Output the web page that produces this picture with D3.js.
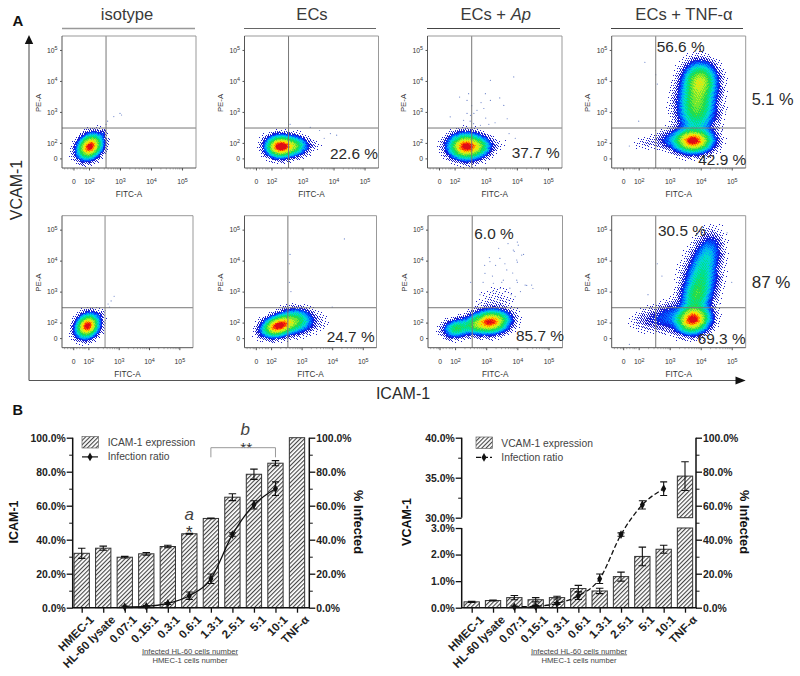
<!DOCTYPE html>
<html><head><meta charset="utf-8">
<script src="https://cdn.jsdelivr.net/npm/d3@7/dist/d3.min.js"></script>
<style>html,body{margin:0;padding:0;background:#fff}svg{display:block}text{font-family:"Liberation Sans",Arial,sans-serif}</style>
</head><body><svg id="c" width="800" height="676"></svg>
<script>
// ---------- Flow cytometry: density components [cx, cy, sx, sy, rho, weight] in log10 units
const isotypeTop=[[2.03,1.88,.2,.2,.25,1],[2.45,2.3,.07,.09,.5,.03]];
const ecsTop=[[2.25,1.88,.22,.17,0,1],[2.65,1.9,.24,.16,0,.42],[3.2,1.95,.25,.12,0,.012]];
const apTop=[[2.36,1.88,.28,.2,0,1],[2.8,1.88,.2,.16,0,.2],[3.3,1.95,.25,.15,0,.008]];
const tnfTop=[[3.74,2.07,.31,.19,0,1],[3.85,2.9,.3,.36,0,.2],[3.87,3.4,.3,.36,0,.3],[3.97,4.0,.27,.3,0,.5],[3.9,3.3,.42,.8,0,.014],[3.0,2.1,.3,.17,.1,.05],[2.2,2.0,.22,.13,.2,.012]];
const isotypeBottom=[[1.97,1.9,.19,.19,.2,1],[2.42,2.25,.07,.1,.5,.02]];
const ecsBottom=[[2.22,1.9,.26,.17,.3,1],[2.75,2.05,.28,.2,.1,.36],[3.3,2.0,.3,.18,0,.02]];
const apBottom=[[3.13,2.03,.3,.18,.1,.95],[2.05,1.82,.22,.15,.15,.3],[2.6,1.92,.22,.15,0,.22],[3.3,2.6,.35,.3,0,.012],[3.55,3.5,.4,.55,.2,.0015]];
const tnfBottom=[[3.74,2.11,.27,.22,.1,1],[3.85,2.85,.25,.3,.2,.26],[4.0,3.45,.27,.4,.2,.2],[4.2,4.2,.24,.36,.3,.12],[4.0,3.5,.45,.8,.3,.012],[2.95,2.2,.3,.25,.2,.07],[2.3,2.1,.3,.2,.1,.028]];
const blobs=[[isotypeTop,ecsTop,apTop,tnfTop],[isotypeBottom,ecsBottom,apBottom,tnfBottom]];
// sparse events [x, y] in log10 units
const sparseApTop=[[2.16,3.48],[2.4,3.37],[2.99,3.59],[3.15,3.37],[3.58,3.21],[2.94,3.11],[2.51,2.89],[3.69,2.78],[3.9,4.13],[3.15,4.02],[2.29,2.73],[1.86,2.84],[2.61,2.62],[2.83,2.57],[2.45,3.59],[2.72,3.05],[2.55,3.2],[2.62,2.95],[3.0,2.8],[2.5,2.7],[3.3,2.65],[2.4,2.95],[3.45,3.45],[2.85,3.3],[3.95,2.15],[3.75,2.3],[3.1,2.6],[2.55,4.0]];
const sparseIsoTop=[[2.55,2.6],[2.6,2.7],[2.8,2.85],[3.0,2.95],[3.05,2.9]];
const sparseEcsTop=[[3.9,2.3],[3.55,2.4],[4.1,2.25],[3.7,2.15],[2.6,2.6],[3.25,2.5]];
const sparseTnfTop=[[2.55,4.2],[2.2,4.6],[2.6,3.9],[4.8,3.0],[4.7,2.4],[2.0,2.7],[1.7,1.9]];
const sparseEcsBottom=[[2.6,3.3],[2.65,3.0],[2.62,4.2],[4.0,2.5],[4.4,4.7],[2.6,3.9]];
const sparseIsoBottom=[[2.65,2.6],[2.75,2.7],[2.85,2.85],[2.7,2.5]];
const sparseApBottom=[[2.9,3.3],[3.1,4.1],[3.3,3.85],[3.7,4.55],[4.0,4.6],[3.9,4.3],[4.2,4.2],[3.6,3.0],[3.2,3.0],[2.8,2.9],[3.85,3.6],[4.0,3.3],[2.5,3.3],[3.4,4.4],[4.3,3.2],[4.5,3.1],[3.6,3.9],[3.2,3.5],[3.5,3.3],[3.8,2.9],[4.1,3.0],[4.0,3.95],[3.45,3.1],[2.95,3.85],[3.12,3.97],[3.44,4.07],[3.66,3.7],[3.87,4.34],[4.03,4.5],[3.55,3.37],[3.23,3.27],[2.96,3.59],[3.98,4.02],[4.14,4.18],[3.76,3.11],[3.33,3.0],[3.01,2.84],[3.93,2.84],[4.25,3.21],[4.46,3.21],[2.8,2.62],[3.44,2.73],[3.71,2.73],[3.98,3.37]];
const sparseTnfBottom=[[2.6,3.9],[2.75,3.5],[4.85,4.9],[4.6,2.6],[2.3,2.9],[1.8,2.1],[1.7,1.3],[5.0,3.3]];
const sparse=[[sparseIsoTop,sparseEcsTop,sparseApTop,sparseTnfTop],[sparseIsoBottom,sparseEcsBottom,sparseApBottom,sparseTnfBottom]];
const logTicks=[1.5,2,3,4,5];
const logExps=["","2","3","4","5"];
const minorDecades=[2,3,4];
const gate=[2.55,2.48];
const colTitles=["isotype","ECs","ECs + ","ECs + TNF-α"];
const pctLabels=[["22.6 %"],["37.7 %"],["56.6 %"],["42.9 %"],["5.1 %"],["24.7 %"],["6.0 %"],["85.7 %"],["30.5 %"],["69.3 %"],["87 %"]];

// ---------- Bar charts
const categories=["HMEC-1","HL-60 lysate","0.07:1","0.15:1","0.3:1","0.6:1","1.3:1","2.5:1","5:1","10:1","TNF-α"];
const icamValues=[32,35,29.7,31.7,36,43.5,52.5,65,78.5,85,100];
const icamErrors=[3,1.2,.5,.8,.7,.2,.2,2,3,1.5,0];
const vcamValues=[.22,.27,.38,.3,.38,.72,.63,1.17,1.93,2.2,35.2];
const vcamErrors=[.02,.02,.08,.08,.05,.12,.1,.17,.35,.15,1.8];
const infectionValues=[null,null,.5,.8,2.5,7,17,43,60.5,70,null];
const infectionErrors=[null,null,.4,.4,.6,2.2,2.8,1,2.4,4,null];
const leftTicks=[0,20,40,60,80,100];
const leftMinor=[10,30,50,70,90];
const vTopTicks=[30,35,40];
const vTopMinor=[32.5,37.5];
const vBotTicks=[0,1,2,3];

const svg=d3.select("#c");
const defs=svg.append("defs");
const pat=defs.append("pattern").attr("id","hatch").attr("width",3).attr("height",3).attr("patternUnits","userSpaceOnUse").attr("patternTransform","rotate(45)");
pat.append("rect").attr("width",3).attr("height",3).attr("fill","#fff");
pat.append("line").attr("x1",0).attr("x2",0).attr("y1",0).attr("y2",3).attr("stroke","#444").attr("stroke-width",2.2);
const aHead=defs.append("filter").attr("id","soft").attr("x","-5%").attr("y","-5%").attr("width","110%").attr("height","110%");
aHead.append("feGaussianBlur").attr("stdDeviation",.4);

// ---------- FACS grid
const colX=[[62,244.5,427.5,611.7],[62,244.5,428,611.7]];
const colW=[[134,134,134.5,134],[131,132,134.5,134]];
const rowY=[36,215.7], rowH=[132,132];
const jet=["#2020c8","#1028e8","#0060ff","#00a8f8","#00d8d0","#00e090","#20dc50","#70e830","#c0f020","#f8e000","#ff9000","#ff3800","#e00818"];
const thresholds=[.03,.05,.08,.12,.17,.24,.33,.43,.55,.68,.8,.88,.95];
const levelScale=d3.scaleLinear().domain(thresholds).range(d3.range(thresholds.length)).clamp(true);
// interleaved-gradient ordered dither: a fixed screen, not sampled data
const screen=(i,j)=>{const a=.06711056*i+.00583715*j;const b=52.9829189*(a-Math.floor(a));return b-Math.floor(b);};
function density(list,u,v){let s=0;for(const [cx,cy,sx,sy,r,w] of list){const a=(u-cx)/sx,b=(v-cy)/sy;s+=w*Math.exp(-.5*(a*a-2*r*a*b+b*b)/(1-r*r));}return s;}

function panel(r,c){
 const W=colW[r][c],H=rowH[r],g=svg.append("g").attr("transform",`translate(${colX[r][c]},${rowY[r]})`);
 const x=d3.scaleLinear().domain([1.13,5.45]).range([0,W]);
 const y=d3.scaleLinear().domain([1.19,5.45]).range([H,0]);
 const gw=Math.ceil(W),gh=Math.ceil(H),list=blobs[r][c];
 const cells=jet.map(()=>[]);
 for(let j=0;j<gh;j++)for(let i=0;i<gw;i++){
  const f=density(list,x.invert(i+.5),y.invert(j+.5));
  if(f<.0025)continue;
  const k=screen(i,j);
  if(f<.03){ if(Math.pow(f/.03,1.05)*.62>k) cells[0].push(`M${i},${j}h1v1h-1z`); continue; }
  const lev=levelScale(f);
  if(lev<1.2 && k>.62+.38*lev/1.2) continue;           // ragged edge of the cloud
  const idx=Math.min(jet.length-1,Math.floor(lev+k*1.1));
  cells[idx].push(`M${i},${j}h1v1h-1z`);
 }
 const inner=g.append("g").attr("filter","url(#soft)");
 inner.selectAll("path").data(cells).join("path").attr("d",d=>d.join("")).attr("fill",(d,i)=>jet[i]).attr("shape-rendering","crispEdges");
 inner.selectAll("circle").data(sparse[r][c]).join("circle").attr("cx",d=>x(d[0])).attr("cy",d=>y(d[1])).attr("r",.6).attr("fill","#3a5ab8").attr("opacity",.75);
 // gates
 g.append("line").attr("x1",x(gate[0])).attr("x2",x(gate[0])).attr("y1",0).attr("y2",H).attr("stroke",(r==1&&c==0)?"#aaa":"#777").attr("stroke-width",(r==1&&c==0)?1.4:1);
 g.append("line").attr("x1",0).attr("x2",W).attr("y1",y(gate[1])).attr("y2",y(gate[1])).attr("stroke","#777").attr("stroke-width",1);
 // frame
 g.append("path").attr("d",`M0,0H${W}V${H}`).attr("fill","none").attr("stroke","#999").attr("stroke-width",1);
 g.append("path").attr("d",`M0,0V${H}H${W}`).attr("fill","none").attr("stroke","#555").attr("stroke-width",1);
 // axes
 const minor=[1.2,1.3,1.4,1.45,1.6,1.7,1.8,1.85,1.9];
 minorDecades.forEach(d=>[2,3,4,5,6,7,8,9].forEach(m=>minor.push(d+Math.log10(m))));
 const ax=g.append("g").attr("transform",`translate(0,${H})`).call(d3.axisBottom(x).tickValues(minor.filter(v=>v<5.4)).tickSize(1.5).tickFormat(""));
 ax.selectAll("line").attr("stroke","#777").attr("stroke-width",.6);ax.select(".domain").remove();
 const axM=g.append("g").attr("transform",`translate(0,${H})`).call(d3.axisBottom(x).tickValues(logTicks).tickSize(2.5).tickPadding(9).tickFormat(()=>""));
 axM.select(".domain").remove();axM.selectAll("line").attr("stroke","#555");
 axM.selectAll("text").each(function(d,i){const t=d3.select(this).attr("font-size",6.8).attr("fill","#333");
  t.append("tspan").text(i?"10":"0");if(i)t.append("tspan").attr("dy",-2.5).attr("font-size",5.4).text(logExps[i]);});
 const ay=g.append("g").call(d3.axisLeft(y).tickValues(logTicks).tickSize(2).tickPadding(2.5).tickFormat(()=>""));
 ay.select(".domain").remove();ay.selectAll("line").attr("stroke","#555");
 ay.selectAll("text").each(function(d,i){const t=d3.select(this).attr("font-size",6.8).attr("fill","#333");
  t.append("tspan").text(i?"10":"0");if(i)t.append("tspan").attr("dy",-2.5).attr("font-size",5.4).text(logExps[i]);});
 g.append("text").attr("x",W/2).attr("y",H+29).attr("text-anchor","middle").attr("font-size",8.2).attr("fill","#333").text("FITC-A");
 g.append("text").attr("transform",`translate(-21.5,${H/2+1}) rotate(-90)`).attr("text-anchor","middle").attr("font-size",7.8).attr("fill","#333").text("PE-A");
}
[0,1].forEach(r=>[0,1,2,3].forEach(c=>panel(r,c)));

// column titles
const titleCx=[127,312,495.7,684];
colTitles.forEach((t,i)=>{
 const tx=svg.append("text").attr("x",titleCx[i]).attr("y",20).attr("text-anchor","middle").attr("font-size",16.6).attr("fill","#3a3a3a").text(t);
 if(i==2)tx.append("tspan").attr("font-style","italic").text("Ap");
});
[[62,195,"#999",1.6],[244,376,"#666",1],[427,560,"#444",1],[611,743,"#444",1]].forEach(([a,b,s,w])=>svg.append("line").attr("x1",a).attr("x2",b).attr("y1",28.5).attr("y2",28.5).attr("stroke",s).attr("stroke-width",w));
// percentages
const pctPos=[[330,159,15.4],[511.7,158,15.4],[656.7,52,15.4],[698.3,165,15.4],[751.7,104.5,16.4],[326.7,342,15.4],[474.3,238.7,15.4],[516,341,15.4],[658,236,15.4],[697.7,344.3,15.4],[751.7,287.7,17]];
pctLabels.forEach((p,i)=>svg.append("text").attr("x",pctPos[i][0]).attr("y",pctPos[i][1]).attr("font-size",pctPos[i][2]).attr("fill","#2a2a2a").text(p[0]));

// big arrows
svg.append("path").attr("d","M29,380.5V42M29,380.5H737").attr("fill","none").attr("stroke","#555").attr("stroke-width",1.1);
svg.append("path").attr("d","M29,35L24.8,44H33.2Z").attr("fill","#111");
svg.append("path").attr("d","M745.7,380.5L735.5,376.5V384.5Z").attr("fill","#111");
svg.append("text").attr("transform","translate(22,190) rotate(-90)").attr("text-anchor","middle").attr("font-size",16).attr("fill","#2a2a2a").text("VCAM-1");
svg.append("text").attr("x",403).attr("y",398.5).attr("text-anchor","middle").attr("font-size",16).attr("fill","#2a2a2a").text("ICAM-1");
svg.append("text").attr("x",12.6).attr("y",25.5).attr("font-size",15).attr("font-weight","bold").attr("fill","#111").text("A");
svg.append("text").attr("x",12.6).attr("y",414.5).attr("font-size",14.5).attr("font-weight","bold").attr("fill","#111").text("B");

// ---------- bar chart helper
const base=607.7,top100=437.7;
const yPct=d3.scaleLinear().domain([0,100]).range([base,top100]);
function band(xl,xr){return d3.scaleLinear().domain([0,10]).range([xl,xr]);}
const barW=15.3;
function fmt(v){return v.toFixed(1)+"%";}
function xAxis(g,xs,left,right){
 const a=g.append("g").attr("transform",`translate(0,${base})`).call(d3.axisBottom(xs).tickValues(d3.range(11)).tickSize(5).tickPadding(3).tickFormat(i=>categories[i]));
 a.select(".domain").remove();
 a.selectAll("line").attr("stroke","#111").attr("stroke-width",1.3);
 a.selectAll("text").attr("transform","translate(2.5,3) rotate(-45)").attr("text-anchor","end").attr("dy","0.5em").attr("dx","0").attr("font-size",11.6).attr("font-weight","bold").attr("fill","#222");
 g.append("line").attr("x1",left-.7).attr("x2",right+.7).attr("y1",base).attr("y2",base).attr("stroke","#111").attr("stroke-width",1.5);
}
function errorBar(g,cx,y1,y2,w){
 g.append("path").attr("d",`M${cx},${y1}V${y2}M${cx-w/2},${y1}H${cx+w/2}M${cx-w/2},${y2}H${cx+w/2}`).attr("fill","none").attr("stroke","#111").attr("stroke-width",1.1);
}
function infection(g,xs,dashed){
 const pts=infectionValues.map((v,i)=>({v,e:infectionErrors[i],i})).filter(d=>d.v!=null);
 const ln=d3.line().x(d=>xs(d.i)).y(d=>yPct(d.v)).curve(d3.curveMonotoneX);
 g.append("path").attr("d",ln(pts)).attr("fill","none").attr("stroke","#111").attr("stroke-width",1.3).attr("stroke-dasharray",dashed?"5,2.5":null);
 pts.forEach(d=>errorBar(g,xs(d.i),yPct(d.v-d.e),yPct(d.v+d.e),7));
 g.selectAll("path.m").data(pts).join("path").attr("class","m").attr("transform",d=>`translate(${xs(d.i)},${yPct(d.v)})`).attr("d",d3.symbol(d3.symbolDiamond,22)).attr("fill","#111");
}
function rightAxis(g,xr){
 const a=g.append("g").attr("transform",`translate(${xr},0)`).call(d3.axisRight(yPct).tickValues(leftTicks).tickSize(6).tickPadding(1).tickFormat(fmt));
 a.select(".domain").attr("stroke","#111").attr("stroke-width",1.5).attr("d",`M0,${top100}V${base}`);
 a.selectAll("line").attr("stroke","#111").attr("stroke-width",1.3);
 a.selectAll("text").attr("font-size",10.4).attr("font-weight","bold").attr("fill","#222");
 const m=g.append("g").attr("transform",`translate(${xr},0)`).call(d3.axisRight(yPct).tickValues(leftMinor).tickSize(3.5).tickFormat(""));
 m.select(".domain").remove();m.selectAll("line").attr("stroke","#111");
}
function legend(g,lx,ly,tx,name,dashed){
 g.append("rect").attr("x",lx).attr("y",ly).attr("width",16.5).attr("height",11.5).attr("fill","url(#hatch)").attr("stroke","#666").attr("stroke-width",.7);
 g.append("text").attr("x",tx).attr("y",ly+9.5).attr("font-size",10.3).attr("fill","#444").text(name);
 g.append("text").attr("x",tx).attr("y",ly+23.7).attr("font-size",10.3).attr("fill","#444").text("Infection ratio");
 g.append("line").attr("x1",lx).attr("x2",lx+16).attr("y1",ly+20.4).attr("y2",ly+20.4).attr("stroke","#111").attr("stroke-width",1.2).attr("stroke-dasharray",dashed?"5,2":null);
 g.append("path").attr("transform",`translate(${lx+8},${ly+20.4})`).attr("d",d3.symbol(d3.symbolDiamond,22)).attr("fill","#111");
}
function caption(g,cx){
 g.append("text").attr("x",cx).attr("y",653.5).attr("text-anchor","middle").attr("font-size",7.7).attr("fill","#444").attr("text-decoration","underline").text("Infected HL-60 cells number");
 g.append("text").attr("x",cx).attr("y",663).attr("text-anchor","middle").attr("font-size",7.7).attr("fill","#444").text("HMEC-1 cells number");
}

// ---------- ICAM chart
{
 const g=svg.append("g"),xs=band(81.7,297),L=72.7,R=309.3;
 g.selectAll("rect.b").data(icamValues).join("rect").attr("x",(d,i)=>xs(i)-barW/2).attr("width",barW).attr("y",d=>yPct(d)).attr("height",d=>base-yPct(d)).attr("fill","url(#hatch)").attr("stroke","#333").attr("stroke-width",1);
 icamValues.forEach((v,i)=>{if(icamErrors[i]>0)errorBar(g,xs(i),yPct(v-icamErrors[i]),yPct(v+icamErrors[i]),7.5);});
 infection(g,xs,false);
 xAxis(g,xs,L,R);
 const a=g.append("g").attr("transform",`translate(${L},0)`).call(d3.axisLeft(yPct).tickValues(leftTicks).tickSize(6).tickPadding(1).tickFormat(fmt));
 a.select(".domain").attr("stroke","#111").attr("stroke-width",1.5).attr("d",`M0,${top100}V${base}`);
 a.selectAll("line").attr("stroke","#111").attr("stroke-width",1.3);
 a.selectAll("text").attr("font-size",10.4).attr("font-weight","bold").attr("fill","#222");
 const m=g.append("g").attr("transform",`translate(${L},0)`).call(d3.axisLeft(yPct).tickValues(leftMinor).tickSize(3.5).tickFormat(""));
 m.select(".domain").remove();m.selectAll("line").attr("stroke","#111");
 rightAxis(g,R);
 legend(g,82,436.5,107.7,"ICAM-1 expression",false);
 g.append("text").attr("transform","translate(17.7,522) rotate(-90)").attr("text-anchor","middle").attr("font-size",12.5).attr("font-weight","bold").attr("fill","#111").text("ICAM-1");
 g.append("text").attr("transform","translate(353.5,522) rotate(90)").attr("text-anchor","middle").attr("font-size",12.8).attr("font-weight","bold").attr("fill","#111").text("% Infected");
 g.append("text").attr("x",xs(5)).attr("y",520).attr("text-anchor","middle").attr("font-size",17).attr("font-style","italic").attr("fill","#444").text("a");
 g.append("text").attr("x",xs(5)).attr("y",537.5).attr("text-anchor","middle").attr("font-size",17).attr("fill","#333").text("*");
 g.append("text").attr("x",xs(7.6)).attr("y",434.7).attr("text-anchor","middle").attr("font-size",17).attr("font-style","italic").attr("fill","#444").text("b");
 g.append("text").attr("x",xs(7.6)+1).attr("y",452.6).attr("text-anchor","middle").attr("font-size",15.5).attr("fill","#333").text("**");
 g.append("path").attr("d",`M${xs(6)},457.3V447.7H${xs(9)}V457.3`).attr("fill","none").attr("stroke","#999").attr("stroke-width",1);
 caption(g,190);
}

// ---------- VCAM chart
{
 const g=svg.append("g"),xs=band(471.7,685),L=461.7,R=696;
 const yTop=d3.scaleLinear().domain([30,40]).range([517.7,437.7]);
 const yBot=d3.scaleLinear().domain([0,3]).range([base,528]);
 const bar=(i,y0,y1)=>g.append("rect").attr("x",xs(i)-barW/2).attr("width",barW).attr("y",y1).attr("height",y0-y1).attr("fill","url(#hatch)").attr("stroke","#333").attr("stroke-width",1);
 vcamValues.forEach((v,i)=>{
  const e=vcamErrors[i];
  if(v<=3){bar(i,yBot(0),yBot(v));errorBar(g,xs(i),yBot(Math.max(0,v-e)),yBot(v+e),7.5);}
  else{bar(i,yBot(0),yBot(3));bar(i,yTop(30),yTop(v));errorBar(g,xs(i),yTop(v-e),yTop(v+e),7.5);}
 });
 infection(g,xs,true);
 xAxis(g,xs,L,R);
 const at=g.append("g").attr("transform",`translate(${L},0)`).call(d3.axisLeft(yTop).tickValues(vTopTicks).tickSize(6).tickPadding(1).tickFormat(fmt));
 const mt=g.append("g").attr("transform",`translate(${L},0)`).call(d3.axisLeft(yTop).tickValues(vTopMinor).tickSize(3.5).tickFormat(""));
 mt.select(".domain").remove();mt.selectAll("line").attr("stroke","#111");
 const ab=g.append("g").attr("transform",`translate(${L},0)`).call(d3.axisLeft(yBot).tickValues(vBotTicks).tickSize(6).tickPadding(1).tickFormat(fmt));
 at.select(".domain").attr("stroke","#111").attr("stroke-width",1.5).attr("d",`M0,437.7V517.7`);
 ab.select(".domain").attr("stroke","#111").attr("stroke-width",1.5).attr("d",`M0,528V${base}`);
 [at,ab].forEach(a=>{a.selectAll("line").attr("stroke","#111").attr("stroke-width",1.3);
  a.selectAll("text").attr("font-size",10.4).attr("font-weight","bold").attr("fill","#222");});
 rightAxis(g,R);
 legend(g,476,437,501.3,"VCAM-1 expression",true);
 g.append("text").attr("transform","translate(411,522) rotate(-90)").attr("text-anchor","middle").attr("font-size",12.5).attr("font-weight","bold").attr("fill","#111").text("VCAM-1");
 g.append("text").attr("transform","translate(739.5,522) rotate(90)").attr("text-anchor","middle").attr("font-size",12.8).attr("font-weight","bold").attr("fill","#111").text("% Infected");
 caption(g,579);
}
</script></body></html>
